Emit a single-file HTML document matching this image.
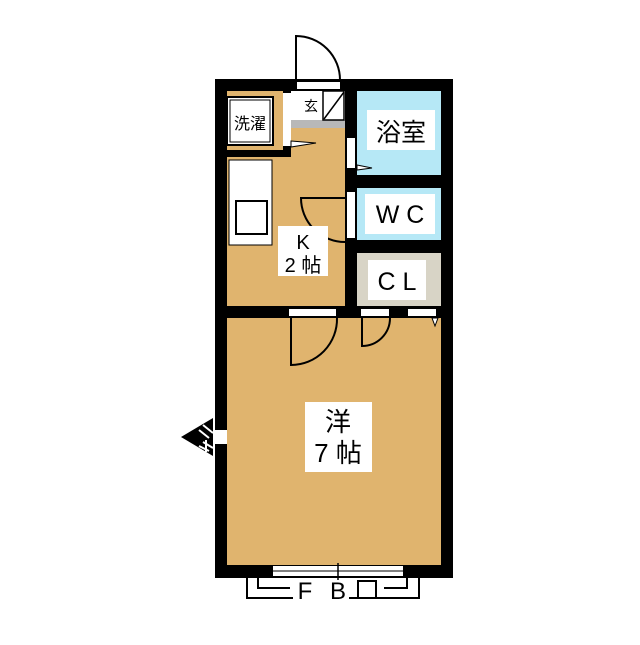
<!DOCTYPE html>
<html><head><meta charset="utf-8"><style>
body{margin:0;background:#fff}
svg text{font-family:"Liberation Sans","Noto Sans CJK JP",sans-serif;}
</style></head><body>
<svg width="640" height="640" viewBox="0 0 640 640" xmlns="http://www.w3.org/2000/svg">
<rect width="640" height="640" fill="#fff"/>
<rect x="215" y="79" width="238" height="499" fill="#000"/>
<rect x="227" y="91" width="118" height="217" fill="#e0b46e"/>
<rect x="227" y="318" width="214" height="247" fill="#e0b46e"/>
<rect x="357" y="91" width="84" height="84" fill="#b6e8f6"/>
<rect x="357" y="188" width="84" height="52" fill="#b6e8f6"/>
<rect x="357" y="253" width="84" height="53" fill="#d8d4c6"/>
<rect x="215" y="91" width="76" height="66" fill="#000"/>
<rect x="227" y="91" width="56" height="59" fill="#e0b46e"/>
<rect x="227" y="97" width="46" height="48" fill="#fff" stroke="#000" stroke-width="2"/>
<rect x="230" y="100" width="40" height="42" fill="#fff" stroke="#000" stroke-width="1"/>
<text x="250" y="129" font-size="16" text-anchor="middle">洗濯</text>
<rect x="283" y="93" width="8" height="53" fill="#fff"/>
<polygon points="291,141 316,143 291,147" fill="#fff" stroke="#000" stroke-width="1"/>
<rect x="291" y="91" width="54" height="29" fill="#fff"/>
<rect x="291" y="120" width="54" height="8" fill="#b8b8b8"/>
<text x="311" y="111" font-size="14" text-anchor="middle">玄</text>
<rect x="323" y="91" width="21" height="29" fill="#fff" stroke="#000" stroke-width="1.5"/>
<line x1="324" y1="119" x2="344" y2="92" stroke="#000" stroke-width="1.5"/>
<rect x="297" y="82" width="43" height="7" fill="#fff"/>
<path d="M296 80 V36 A44 44 0 0 1 340 80" fill="none" stroke="#000" stroke-width="2"/>
<rect x="229" y="160" width="43" height="85" fill="#fff" stroke="#000" stroke-width="1"/>
<rect x="236" y="201" width="31" height="33" fill="none" stroke="#000" stroke-width="2"/>
<rect x="345" y="91" width="12" height="227" fill="#000"/>
<rect x="345" y="175" width="96" height="13" fill="#000"/>
<rect x="345" y="240" width="96" height="13" fill="#000"/>
<rect x="215" y="306" width="238" height="12" fill="#000"/>
<rect x="347" y="138" width="8" height="30" fill="#fff"/>
<polygon points="357,165 372,168 357,170" fill="#fff" stroke="#000" stroke-width="1"/>
<rect x="347" y="192" width="8" height="46" fill="#fff"/>
<path d="M345 242 A44 44 0 0 1 301 198 H345" fill="none" stroke="#000" stroke-width="2"/>
<rect x="367" y="110" width="68" height="40" fill="#fff"/>
<text x="401" y="141" font-size="25" text-anchor="middle">浴室</text>
<rect x="365" y="194" width="70" height="40" fill="#fff"/>
<text x="400" y="223" font-size="25" text-anchor="middle">W C</text>
<rect x="368" y="260" width="58" height="40" fill="#fff"/>
<text x="397" y="290" font-size="25" text-anchor="middle">C L</text>
<rect x="278" y="226" width="50" height="50" fill="#fff"/>
<text x="303" y="249" font-size="20" text-anchor="middle">K</text>
<text x="303" y="272" font-size="20" text-anchor="middle">2 帖</text>
<rect x="305" y="402" width="67" height="70" fill="#fff"/>
<text x="338" y="431" font-size="26" text-anchor="middle">洋</text>
<text x="338" y="462" font-size="26" text-anchor="middle">7 帖</text>
<rect x="289" y="309" width="47" height="7" fill="#fff"/>
<rect x="361" y="309" width="28" height="7" fill="#fff"/>
<rect x="408" y="309" width="28" height="7" fill="#fff"/>
<path d="M291 318 V365 A46 46 0 0 0 337 318" fill="none" stroke="#000" stroke-width="2"/>
<path d="M362 318 V346 A28 28 0 0 0 390 318" fill="none" stroke="#000" stroke-width="2"/>
<polygon points="432,318 438,318 435,326" fill="#fff" stroke="#000" stroke-width="1"/>
<rect x="215" y="430" width="12" height="14" fill="#fff"/>
<polygon points="181,437 213,418 213,456" fill="#000"/>
<path d="M203 425 L213 433 M199 430 L209 438 M203 442 L213 448 M199 446 L209 451 M206 440 L206 452" stroke="#fff" stroke-width="2"/>
<rect x="273" y="566" width="130" height="10" fill="#fff"/>
<line x1="273" y1="571" x2="403" y2="571" stroke="#000" stroke-width="1"/>
<line x1="338" y1="563" x2="338" y2="580" stroke="#000" stroke-width="1.5"/>
<path d="M247 578 V598 H419 V578" fill="none" stroke="#000" stroke-width="2"/>
<path d="M258 578 V588 H290 M384 588 H407 V578" fill="none" stroke="#000" stroke-width="2"/>
<rect x="293" y="583" width="56" height="20" fill="#fff"/>
<rect x="358" y="581" width="18" height="17" fill="#fff" stroke="#000" stroke-width="2"/>
<text x="305" y="599" font-size="24" text-anchor="middle">F</text>
<text x="338" y="599" font-size="24" text-anchor="middle">B</text>
</svg>
</body></html>
